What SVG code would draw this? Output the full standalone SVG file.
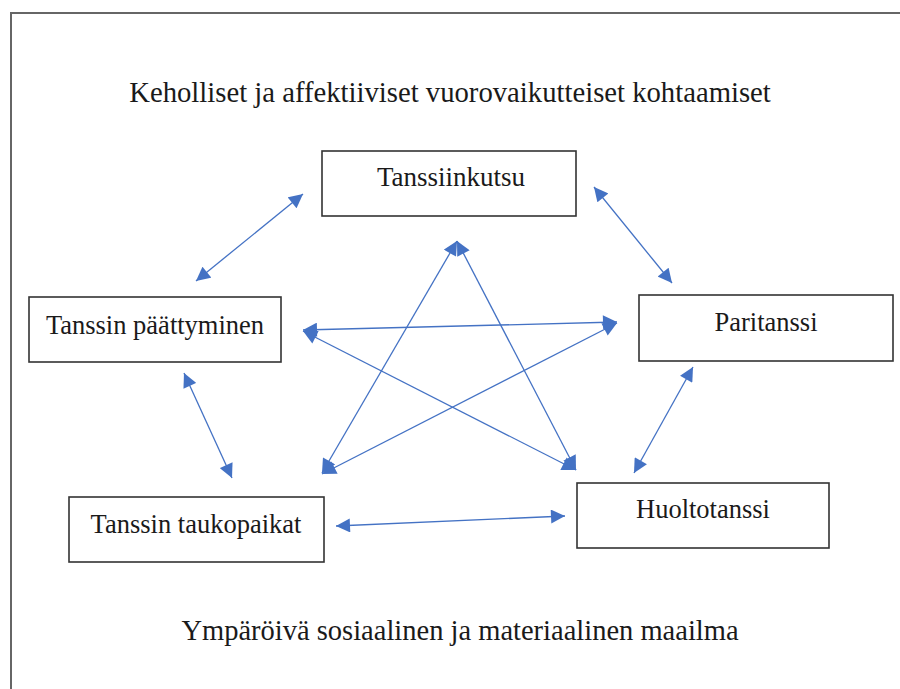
<svg xmlns="http://www.w3.org/2000/svg" width="900" height="689" viewBox="0 0 900 689">
<defs>
<style>
.t{font-family:"Liberation Serif","Times New Roman",serif;fill:#1a1a1a;}
.box{fill:#fff;stroke:#333;stroke-width:1.6;}
.c{stroke:#4472C4;stroke-width:1.3;fill:none;marker-start:url(#h);marker-end:url(#h);}
</style>
<marker id="h" viewBox="0 0 10 10" refX="10" refY="5" markerWidth="15" markerHeight="14" markerUnits="userSpaceOnUse" orient="auto-start-reverse">
<path d="M0,0 L10,5 L0,10 Z" fill="#4472C4"/>
</marker>
</defs>
<rect width="900" height="689" fill="#fff"/>
<path d="M11,689 V13 H900" fill="none" stroke="#666" stroke-width="2"/>
<text class="t" x="450" y="102" font-size="28.7" text-anchor="middle">Keholliset ja affektiiviset vuorovaikutteiset kohtaamiset</text>
<text class="t" x="460" y="640" font-size="28.5" text-anchor="middle">Ympäröivä sosiaalinen ja materiaalinen maailma</text>
<g id="connectors">
<line class="c" x1="196" y1="281" x2="303" y2="194"/>
<line class="c" x1="594" y1="187" x2="672" y2="283"/>
<line class="c" x1="303" y1="330" x2="617" y2="322"/>
<line class="c" x1="303" y1="331" x2="576" y2="470"/>
<line class="c" x1="184" y1="373" x2="232" y2="478"/>
<line class="c" x1="457" y1="241" x2="322" y2="473"/>
<line class="c" x1="457" y1="241" x2="576" y2="470"/>
<line class="c" x1="617" y1="323" x2="322" y2="474"/>
<line class="c" x1="693" y1="367" x2="634" y2="473"/>
<line class="c" x1="336" y1="526" x2="565" y2="516"/>
</g>
<g id="n1"><rect class="box" x="322" y="151" width="254" height="65"/><text class="t" x="451" y="186" font-size="27" text-anchor="middle">Tanssiinkutsu</text></g>
<g id="n2"><rect class="box" x="29" y="297" width="252" height="65"/><text class="t" x="155" y="334" font-size="26.5" text-anchor="middle">Tanssin päättyminen</text></g>
<g id="n3"><rect class="box" x="639" y="295" width="254" height="66"/><text class="t" x="766" y="331" font-size="26.5" text-anchor="middle">Paritanssi</text></g>
<g id="n4"><rect class="box" x="69" y="497" width="255" height="65"/><text class="t" x="196" y="533" font-size="26.5" text-anchor="middle">Tanssin taukopaikat</text></g>
<g id="n5"><rect class="box" x="577" y="483" width="252" height="65"/><text class="t" x="703" y="518" font-size="26.5" text-anchor="middle">Huoltotanssi</text></g>
</svg>
